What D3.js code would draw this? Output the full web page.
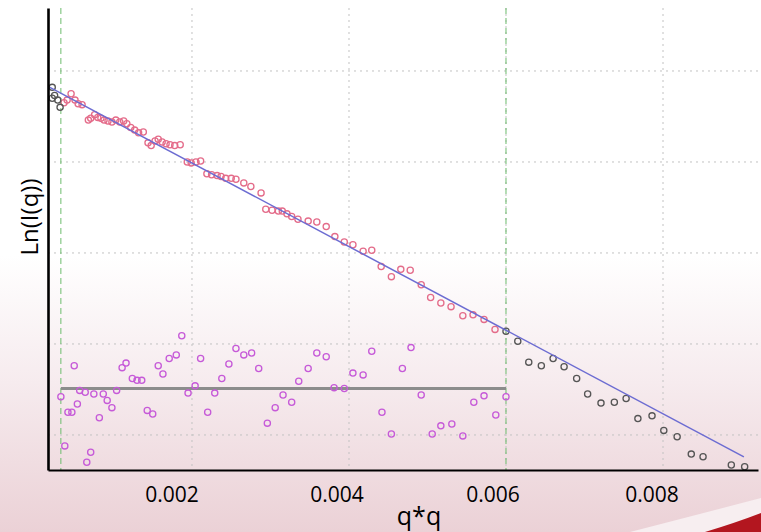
<!DOCTYPE html>
<html>
<head>
<meta charset="utf-8">
<script src="https://cdn.jsdelivr.net/npm/d3@7"></script>
<style>
  body { margin: 0; background: #fff; }
  svg { display: block; }
</style>
</head>
<body>
<div id="vis"></div>
<script>
// points inside the fit range (pink)
let fitQ2 = [0.00037, 0.00041, 0.00046, 0.00051, 0.00055, 0.00060, 0.00068, 0.00071, 0.00076, 0.00080,
    0.00084, 0.00088, 0.00093, 0.00098, 0.00103, 0.00108, 0.00113, 0.00117, 0.00122, 0.00127,
    0.00132, 0.00138, 0.00144, 0.00148, 0.00153, 0.00157, 0.00162, 0.00167, 0.00172, 0.00178,
    0.00185, 0.00194, 0.00199, 0.00205, 0.00211, 0.00219, 0.00225, 0.00232, 0.00237, 0.00243,
    0.00250, 0.00256, 0.00266, 0.00275, 0.00288, 0.00294, 0.00302, 0.00310, 0.00315, 0.00321,
    0.00327, 0.00335, 0.00348, 0.00359, 0.00371, 0.00382, 0.00394, 0.00405, 0.00418, 0.00429,
    0.00441, 0.00454, 0.00466, 0.00478, 0.00492, 0.00504, 0.00517, 0.00530, 0.00545, 0.00558,
    0.00572, 0.00586];
let fitLnI = [3.65, 3.68, 3.75, 3.68, 3.64, 3.63, 3.46, 3.48, 3.52, 3.49,
    3.48, 3.46, 3.45, 3.44, 3.46, 3.44, 3.45, 3.42, 3.38, 3.35,
    3.32, 3.33, 3.21, 3.18, 3.23, 3.25, 3.22, 3.20, 3.19, 3.18,
    3.19, 3.00, 2.99, 3.00, 3.01, 2.87, 2.86, 2.85, 2.84, 2.82,
    2.82, 2.81, 2.77, 2.73, 2.66, 2.48, 2.47, 2.46, 2.46, 2.43,
    2.40, 2.37, 2.35, 2.34, 2.29, 2.18, 2.12, 2.09, 2.02, 2.03,
    1.85, 1.74, 1.82, 1.81, 1.65, 1.51, 1.45, 1.41, 1.31, 1.32,
    1.27, 1.16];

// points outside the fit range (gray)
let outQ2 = [0.00022, 0.00022, 0.00025, 0.00029, 0.00032,
    0.00600, 0.00615, 0.00629, 0.00645, 0.00660, 0.00674, 0.00690, 0.00704, 0.00721, 0.00738,
    0.00753, 0.00768, 0.00786, 0.00801, 0.00818, 0.00836, 0.00851, 0.00887, 0.00904];
let outLnI = [3.82, 3.70, 3.73, 3.68, 3.60,
    1.14, 1.03, 0.80, 0.76, 0.84, 0.75, 0.62, 0.45, 0.35, 0.36,
    0.40, 0.18, 0.21, 0.05, -0.02, -0.21, -0.24, -0.33, -0.35];

// residuals (magenta), drawn around their mean line
let resQ2 = [0.00033, 0.00038, 0.00042, 0.00047, 0.00050, 0.00054, 0.00057, 0.00064, 0.00066, 0.00071,
    0.00075, 0.00082, 0.00087, 0.00092, 0.00098, 0.00104, 0.00111, 0.00116, 0.00124, 0.00130,
    0.00136, 0.00143, 0.00150, 0.00157, 0.00163, 0.00171, 0.00180, 0.00187, 0.00195, 0.00204,
    0.00211, 0.00220, 0.00229, 0.00238, 0.00247, 0.00256, 0.00266, 0.00276, 0.00285, 0.00296,
    0.00306, 0.00316, 0.00327, 0.00336, 0.00348, 0.00359, 0.00371, 0.00381, 0.00394, 0.00405,
    0.00418, 0.00429, 0.00442, 0.00454, 0.00468, 0.00479, 0.00492, 0.00506, 0.00517, 0.00531,
    0.00545, 0.00559, 0.00572, 0.00587, 0.00600];
let resVal = [0.42, -0.12, 0.25, 0.25, 0.76, 0.34, 0.49, 0.47, -0.30, -0.19,
    0.45, 0.19, 0.45, 0.38, 0.30, 0.49, 0.74, 0.79, 0.62, 0.60,
    0.60, 0.27, 0.23, 0.76, 0.67, 0.84, 0.88, 1.09, 0.46, 0.54,
    0.84, 0.25, 0.46, 0.62, 0.78, 0.95, 0.88, 0.90, 0.73, 0.13,
    0.30, 0.44, 0.36, 0.59, 0.73, 0.90, 0.86, 0.52, 0.51, 0.68,
    0.66, 0.92, 0.25, 0.01, 0.73, 0.96, 0.44, 0.01, 0.10, 0.12,
    -0.01, 0.36, 0.43, 0.22, 0.42];
let resMean = 0.51;

// fitted straight line and fit range
let lineQ2 = [0.00019, 0.00903];
let lineLnI = [3.82, -0.24];
let fitRange = [0.00033, 0.00600];

let gridQ2 = [0.002, 0.004, 0.006, 0.008];
let gridLnI = [0, 1, 2, 3, 4];
let tickLabels = ['0.002', '0.004', '0.006', '0.008'];
let tickLabelPos = [0.001745, 0.003847, 0.005834, 0.00786];

let W = 761, H = 532;
let plot = { left: 48, right: 758, top: 8, bottom: 470 };

let svg = d3.select('#vis').append('svg')
    .attr('width', W)
    .attr('height', H);

// slide background
let defs = svg.append('defs');
let grad = defs.append('linearGradient')
    .attr('id', 'bg').attr('x1', 0).attr('y1', 0).attr('x2', 0).attr('y2', 1);
grad.selectAll('stop')
    .data([
        { o: '0%', c: '#ffffff' },
        { o: '48%', c: '#ffffff' },
        { o: '72%', c: '#f6ebee' },
        { o: '100%', c: '#ebd1d6' }
    ])
    .enter().append('stop')
    .attr('offset', d => d.o)
    .attr('stop-color', d => d.c);

svg.append('rect').attr('width', W).attr('height', H).attr('fill', 'url(#bg)');
// bottom-right swoosh
svg.append('path')
    .attr('d', 'M630,532 Q700,514 761,498 L761,532 Z')
    .attr('fill', '#f7eef0');
svg.append('path')
    .attr('d', 'M705,532 Q735,523 761,513 L761,532 Z')
    .attr('fill', '#b3161f');

let x = d3.scaleLinear()
    .domain([0.000166, 0.00921])
    .range([plot.left, plot.right]);
let y = d3.scaleLinear()
    .domain([-0.385, 4.692])
    .range([plot.bottom, plot.top]);

let g = svg.append('g');

// grid
g.selectAll('.vgrid')
    .data(gridQ2)
    .enter().append('line')
    .attr('x1', d => x(d)).attr('x2', d => x(d))
    .attr('y1', plot.top).attr('y2', plot.bottom)
    .attr('stroke', '#c2c2c2')
    .attr('stroke-width', 1)
    .attr('stroke-dasharray', '2,4');
g.selectAll('.hgrid')
    .data(gridLnI)
    .enter().append('line')
    .attr('x1', plot.left).attr('x2', plot.right)
    .attr('y1', d => y(d)).attr('y2', d => y(d))
    .attr('stroke', '#c2c2c2')
    .attr('stroke-width', 1)
    .attr('stroke-dasharray', '2,4');

// fit range markers
g.selectAll('.range')
    .data(fitRange)
    .enter().append('line')
    .attr('x1', d => x(d)).attr('x2', d => x(d))
    .attr('y1', plot.top).attr('y2', plot.bottom)
    .attr('stroke', '#6cbc6c')
    .attr('stroke-width', 1)
    .attr('stroke-dasharray', '6,4');

// residual mean line
g.append('line')
    .attr('x1', x(fitRange[0])).attr('x2', x(fitRange[1]))
    .attr('y1', y(resMean)).attr('y2', y(resMean))
    .attr('stroke', '#8c8c8c')
    .attr('stroke-width', 3);

function dots(xs, ys, color) {
    g.append('g')
        .selectAll('circle')
        .data(xs.map((d, i) => [d, ys[i]]))
        .enter().append('circle')
        .attr('cx', d => x(d[0]))
        .attr('cy', d => y(d[1]))
        .attr('r', 3.1)
        .attr('fill', 'none')
        .attr('stroke', color)
        .attr('stroke-width', 1.3);
}

dots(resQ2, resVal, '#c65ad8');
dots(fitQ2, fitLnI, '#e46c8a');
dots(outQ2, outLnI, '#555555');

// fitted line
g.append('path')
    .datum(lineQ2.map((d, i) => [d, lineLnI[i]]))
    .attr('fill', 'none')
    .attr('stroke', '#6c6cd2')
    .attr('stroke-width', 1.5)
    .attr('d', d3.line().x(d => x(d[0])).y(d => y(d[1])));

// axes (no ticks)
let xAxis = g.append('g')
    .attr('transform', 'translate(0,' + plot.bottom + ')')
    .call(d3.axisBottom(x).tickValues([]).tickSizeOuter(0));
xAxis.select('.domain').attr('stroke', '#000').attr('stroke-width', 2.2);
let yAxis = g.append('g')
    .attr('transform', 'translate(' + plot.left + ',0)')
    .call(d3.axisLeft(y).tickValues([]).tickSizeOuter(0));
yAxis.select('.domain').attr('stroke', '#000').attr('stroke-width', 2.6);

// tick labels
svg.append('g')
    .selectAll('text')
    .data(tickLabels)
    .enter().append('text')
    .attr('x', (d, i) => x(tickLabelPos[i]))
    .attr('y', 502)
    .attr('text-anchor', 'middle')
    .attr('font-family', '"Open Sans", Lato, sans-serif')
    .attr('font-size', 21)
    .attr('fill', '#000')
    .text(d => d);

svg.append('text')
    .attr('x', 419)
    .attr('y', 525)
    .attr('text-anchor', 'middle')
    .attr('font-family', '"Open Sans", Lato, sans-serif')
    .attr('font-size', 25)
    .attr('fill', '#000')
    .text('q*q');

svg.append('text')
    .attr('transform', 'translate(38,217) rotate(-90)')
    .attr('text-anchor', 'middle')
    .attr('font-family', '"Open Sans", Lato, sans-serif')
    .attr('font-size', 24)
    .attr('fill', '#000')
    .text('Ln(I(q))');
</script>
</body>
</html>
